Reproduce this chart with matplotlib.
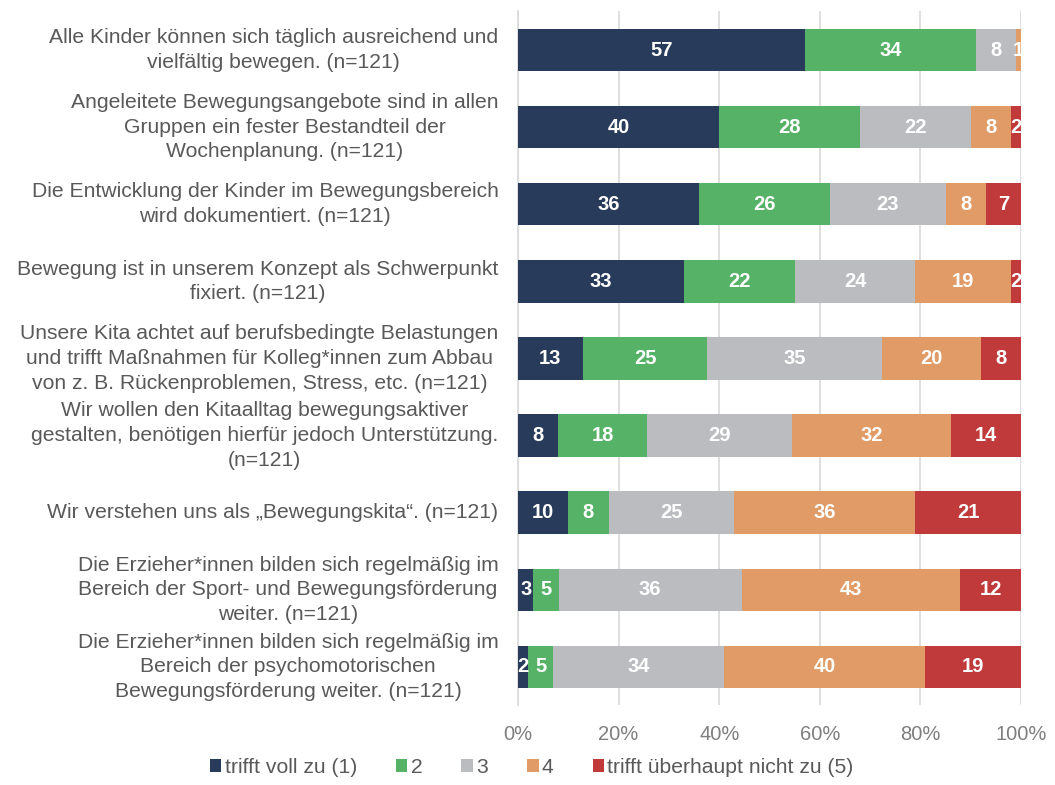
import numpy as np
import matplotlib
matplotlib.use('Agg')
from matplotlib import pyplot as plt

plt.rcParams['font.family'] = ['Liberation Sans', 'DejaVu Sans']

# statements (top to bottom) and answer shares in percent
items = [
    'Alle Kinder können sich täglich ausreichend und\nvielfältig bewegen. (n=121)',
    'Angeleitete Bewegungsangebote sind in allen\nGruppen ein fester Bestandteil der\nWochenplanung. (n=121)',
    'Die Entwicklung der Kinder im Bewegungsbereich\nwird dokumentiert. (n=121)',
    'Bewegung ist in unserem Konzept als Schwerpunkt\nfixiert. (n=121)',
    'Unsere Kita achtet auf berufsbedingte Belastungen\nund trifft Maßnahmen für Kolleg*innen zum Abbau\nvon z. B. Rückenproblemen, Stress, etc. (n=121)',
    'Wir wollen den Kitaalltag bewegungsaktiver\ngestalten, benötigen hierfür jedoch Unterstützung.\n(n=121)',
    'Wir verstehen uns als „Bewegungskita“. (n=121)',
    'Die Erzieher*innen bilden sich regelmäßig im\nBereich der Sport- und Bewegungsförderung\nweiter. (n=121)',
    'Die Erzieher*innen bilden sich regelmäßig im\nBereich der psychomotorischen\nBewegungsförderung weiter. (n=121)',
]
cat1 = [57, 40, 36, 33, 13, 8, 10, 3, 2]
cat2 = [34, 28, 26, 22, 25, 18, 8, 5, 5]
cat3 = [8, 22, 23, 24, 35, 29, 25, 36, 34]
cat4 = [1, 8, 8, 19, 20, 32, 36, 43, 40]
cat5 = [0, 2, 7, 2, 8, 14, 21, 12, 19]
legend_labels = ['trifft voll zu (1)', '2', '3', '4', 'trifft überhaupt nicht zu (5)']
colors = ['#283B5A', '#56B266', '#BBBCC0', '#E09B66', '#C0393B']

vals = np.array([cat1, cat2, cat3, cat4, cat5], dtype=float)
shares = vals / vals.sum(axis=0) * 100   # 100 % stacked
ypos = np.arange(len(items))

fig = plt.figure(figsize=(10.55, 7.85), dpi=100)
ax = fig.add_axes([0.491, 0.1013, 0.4768, 0.8841])

left = np.zeros(len(items))
for k in range(5):
    bars = ax.barh(ypos, shares[k], left=left, height=0.55, color=colors[k],
                   label=legend_labels[k], zorder=3)
    for j, b in enumerate(bars):
        if vals[k, j] > 0:
            ax.text(left[j] + shares[k, j] / 2, ypos[j], '%d' % vals[k, j],
                    ha='center', va='center', color='white', fontsize=14.5,
                    fontweight='bold', zorder=4)
    left += shares[k]

ax.set_xlim(0, 100)
ax.set_ylim(len(items) - 0.5, -0.5)
ax.set_yticks(ypos)
ax.set_yticklabels([])
for j, s in enumerate(items):
    ax.text(-0.039, ypos[j], s, transform=ax.get_yaxis_transform(), ha='right',
            va='center', multialignment='center', fontsize=15.2, color='#595959',
            linespacing=1.38)
ax.set_xticks(np.arange(0, 101, 20))
ax.set_xticklabels(['%d%%' % v for v in range(0, 101, 20)])
ax.tick_params(axis='x', colors='#7f7f7f', labelsize=14.5, length=0, pad=14)
ax.tick_params(axis='y', length=0)
ax.grid(axis='x', color='#d9d9d9', lw=1.2, zorder=0)
for sp in ['top', 'right', 'bottom']:
    ax.spines[sp].set_visible(False)
ax.spines['left'].set_color('#d9d9d9')
ax.spines['left'].set_linewidth(1.2)

leg = fig.legend(loc='lower center', bbox_to_anchor=(0.504, -0.014), ncol=5,
                 frameon=False, fontsize=15.2, handlelength=0.55, handleheight=0.55,
                 handletextpad=0.15, columnspacing=1.85)
for t in leg.get_texts():
    t.set_color('#595959')

fig.savefig('out.png', dpi=100)
